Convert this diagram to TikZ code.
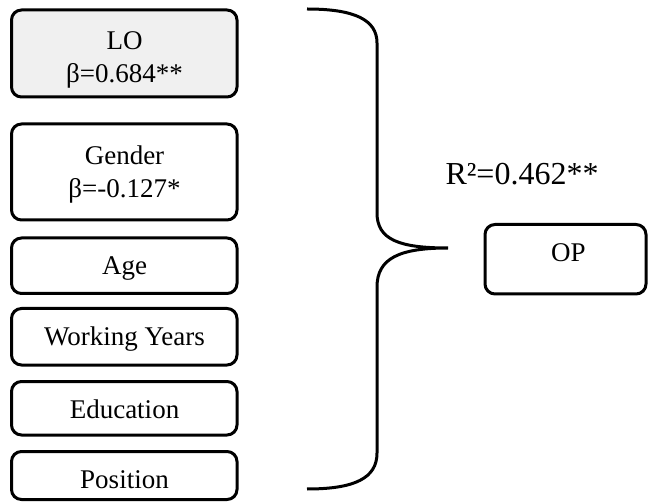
\documentclass[tikz,border=0pt]{standalone}
\usepackage{fontspec}
\setmainfont{Liberation Serif}
\definecolor{lofill}{HTML}{F0F0F0}
\tikzset{
  varbox/.style={draw, line width=1.5pt, rounded corners=5pt, minimum width=112.75pt, inner sep=0pt},
  boxtext/.style={anchor=base, inner sep=0pt, font=\fontsize{13.5}{16}\selectfont},
  bracket/.style={line width=1.5pt}
}
\begin{document}
\begin{tikzpicture}[x=0.5pt,y=-0.5pt]
\useasboundingbox (0,0) rectangle (648,502);
\node[varbox, fill=lofill, minimum height=43.5pt] (lo) at (124.25,53.5) {};
\node[varbox, minimum height=48pt] (gender) at (124.25,172) {};
\node[varbox, minimum height=27.75pt] (age) at (124.25,265.75) {};
\node[varbox, minimum height=28.25pt] (years) at (124.25,336.75) {};
\node[varbox, minimum height=26.75pt] (edu) at (124.25,408.25) {};
\node[varbox, minimum height=24pt] (pos) at (124.25,475.5) {};
\node[boxtext] (lotitle) at (124.5,50) {LO};
\node[boxtext] (lobeta) at (124.5,83) {β=0.684**};
\node[boxtext] (gentitle) at (124.5,165) {Gender};
\node[boxtext] (genbeta) at (124.5,198) {β=-0.127*};
\node[boxtext] (agetext) at (124.5,275) {Age};
\node[boxtext] (yearstext) at (124.5,345) {Working Years};
\node[boxtext] (edutext) at (124.5,418) {Education};
\node[boxtext] (postext) at (124.5,488) {Position};
\draw[bracket] (307,9) .. controls (355,9) and (377,20) .. (377,43) -- (377,213)
  .. controls (377,240) and (400,248) .. (448,248) coordinate (tip)
  .. controls (400,248) and (377,258) .. (377,287) -- (377,453)
  .. controls (377,478) and (355,489) .. (307,489);
\node[boxtext, font=\fontsize{16}{18}\selectfont] (rsq) at (522,185) {R²=0.462**};
\node[varbox, minimum width=80.5pt, minimum height=34.75pt] (op) at (565.5,259.25) {};
\node[boxtext] (optext) at (568.5,262) {OP};
\end{tikzpicture}
\end{document}
